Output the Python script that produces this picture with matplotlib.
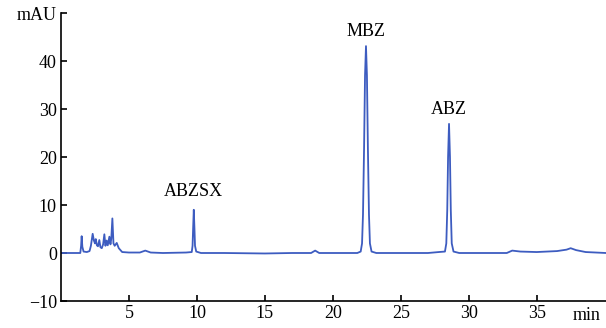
import numpy as np
import matplotlib
matplotlib.use("Agg")
import matplotlib.pyplot as plt

plt.rcParams['font.family'] = ['Liberation Serif', 'DejaVu Serif']

# chromatogram trace (time in min, signal in mAU)
t = [0, 1.42, 1.48, 1.52, 1.57, 1.66, 1.9, 2.1, 2.2, 2.33, 2.42, 2.5, 2.56,
     2.64, 2.72, 2.82, 2.9, 3.0, 3.1, 3.19, 3.27, 3.36, 3.44, 3.56, 3.64, 3.7,
     3.78, 3.86, 3.95, 4.1, 4.25, 4.5, 5.0, 5.8, 6.2, 6.6, 7.5, 9.2, 9.62,
     9.68, 9.72, 9.77, 9.82, 9.86, 9.95, 10.3, 12, 15, 17, 18.4, 18.7, 19.0,
     20, 21.8, 22.05, 22.15, 22.22, 22.3, 22.37, 22.44, 22.51, 22.58, 22.66,
     22.73, 22.85, 23.2, 25, 27, 27.8, 28.25, 28.35, 28.42, 28.48, 28.55,
     28.62, 28.68, 28.75, 28.88, 29.3, 31, 32.8, 33.2, 33.8, 35, 36.5, 37.2,
     37.5, 37.9, 38.6, 40.1]
signal = [0, 0, 1.5, 3.5, 1.3, 0.3, 0.2, 0.4, 1.5, 4.0, 2.6, 2.0, 2.9, 1.6,
          1.4, 2.7, 1.2, 1.0, 1.8, 3.9, 1.5, 2.6, 1.6, 3.4, 1.8, 3.0, 7.2, 2.0,
          1.5, 2.1, 1.0, 0.2, 0.1, 0.1, 0.5, 0.1, 0, 0.1, 0.2, 1.5, 5, 9.0, 5,
          1.5, 0.3, 0, 0, -0.1, 0, 0, 0.5, 0, 0, 0, 0.3, 2, 8, 22, 37, 43.1,
          37, 22, 8, 2, 0.3, 0, 0, 0, 0.2, 0.3, 2, 9, 20, 26.9, 20, 9, 2, 0.3,
          0, 0, 0, 0.5, 0.3, 0.2, 0.4, 0.7, 1.0, 0.6, 0.2, 0]

# peak labels
peak_names = ["ABZSX", "MBZ", "ABZ"]
peak_t = [9.77, 22.44, 28.55]
label_y = [11.0, 44.4, 28.1]

x_ticks = [5, 10, 15, 20, 25, 30, 35]
y_ticks = [-10, 0, 10, 20, 30, 40, 50]
y_labels = ["\u221210", "0", "10", "20", "30", "40", "mAU"]

fig = plt.figure(figsize=(6.06, 3.28), dpi=100)
ax = fig.add_axes([61 / 606, 27 / 328, 545 / 606, 288 / 328])

ax.plot(t, signal, color="#3d5cc0", lw=1.3)

for name, pt, ly in zip(peak_names, peak_t, label_y):
    ax.text(pt, ly, name, ha="center", va="bottom", fontsize=13)

ax.set_xlim(0, 40.1)
ax.set_ylim(-10, 50)
ax.set_xticks(x_ticks)
ax.set_yticks(y_ticks)
ax.set_yticklabels(y_labels)
ax.tick_params(direction="in", length=4, width=1.2, labelsize=13, pad=3)
ax.spines["top"].set_visible(False)
ax.spines["right"].set_visible(False)
ax.spines["left"].set_linewidth(1.2)
ax.spines["bottom"].set_linewidth(1.2)

ax.text(587, 12, "min", transform=None, ha="center", va="center", fontsize=13)

fig.savefig("out.png", dpi=100)
